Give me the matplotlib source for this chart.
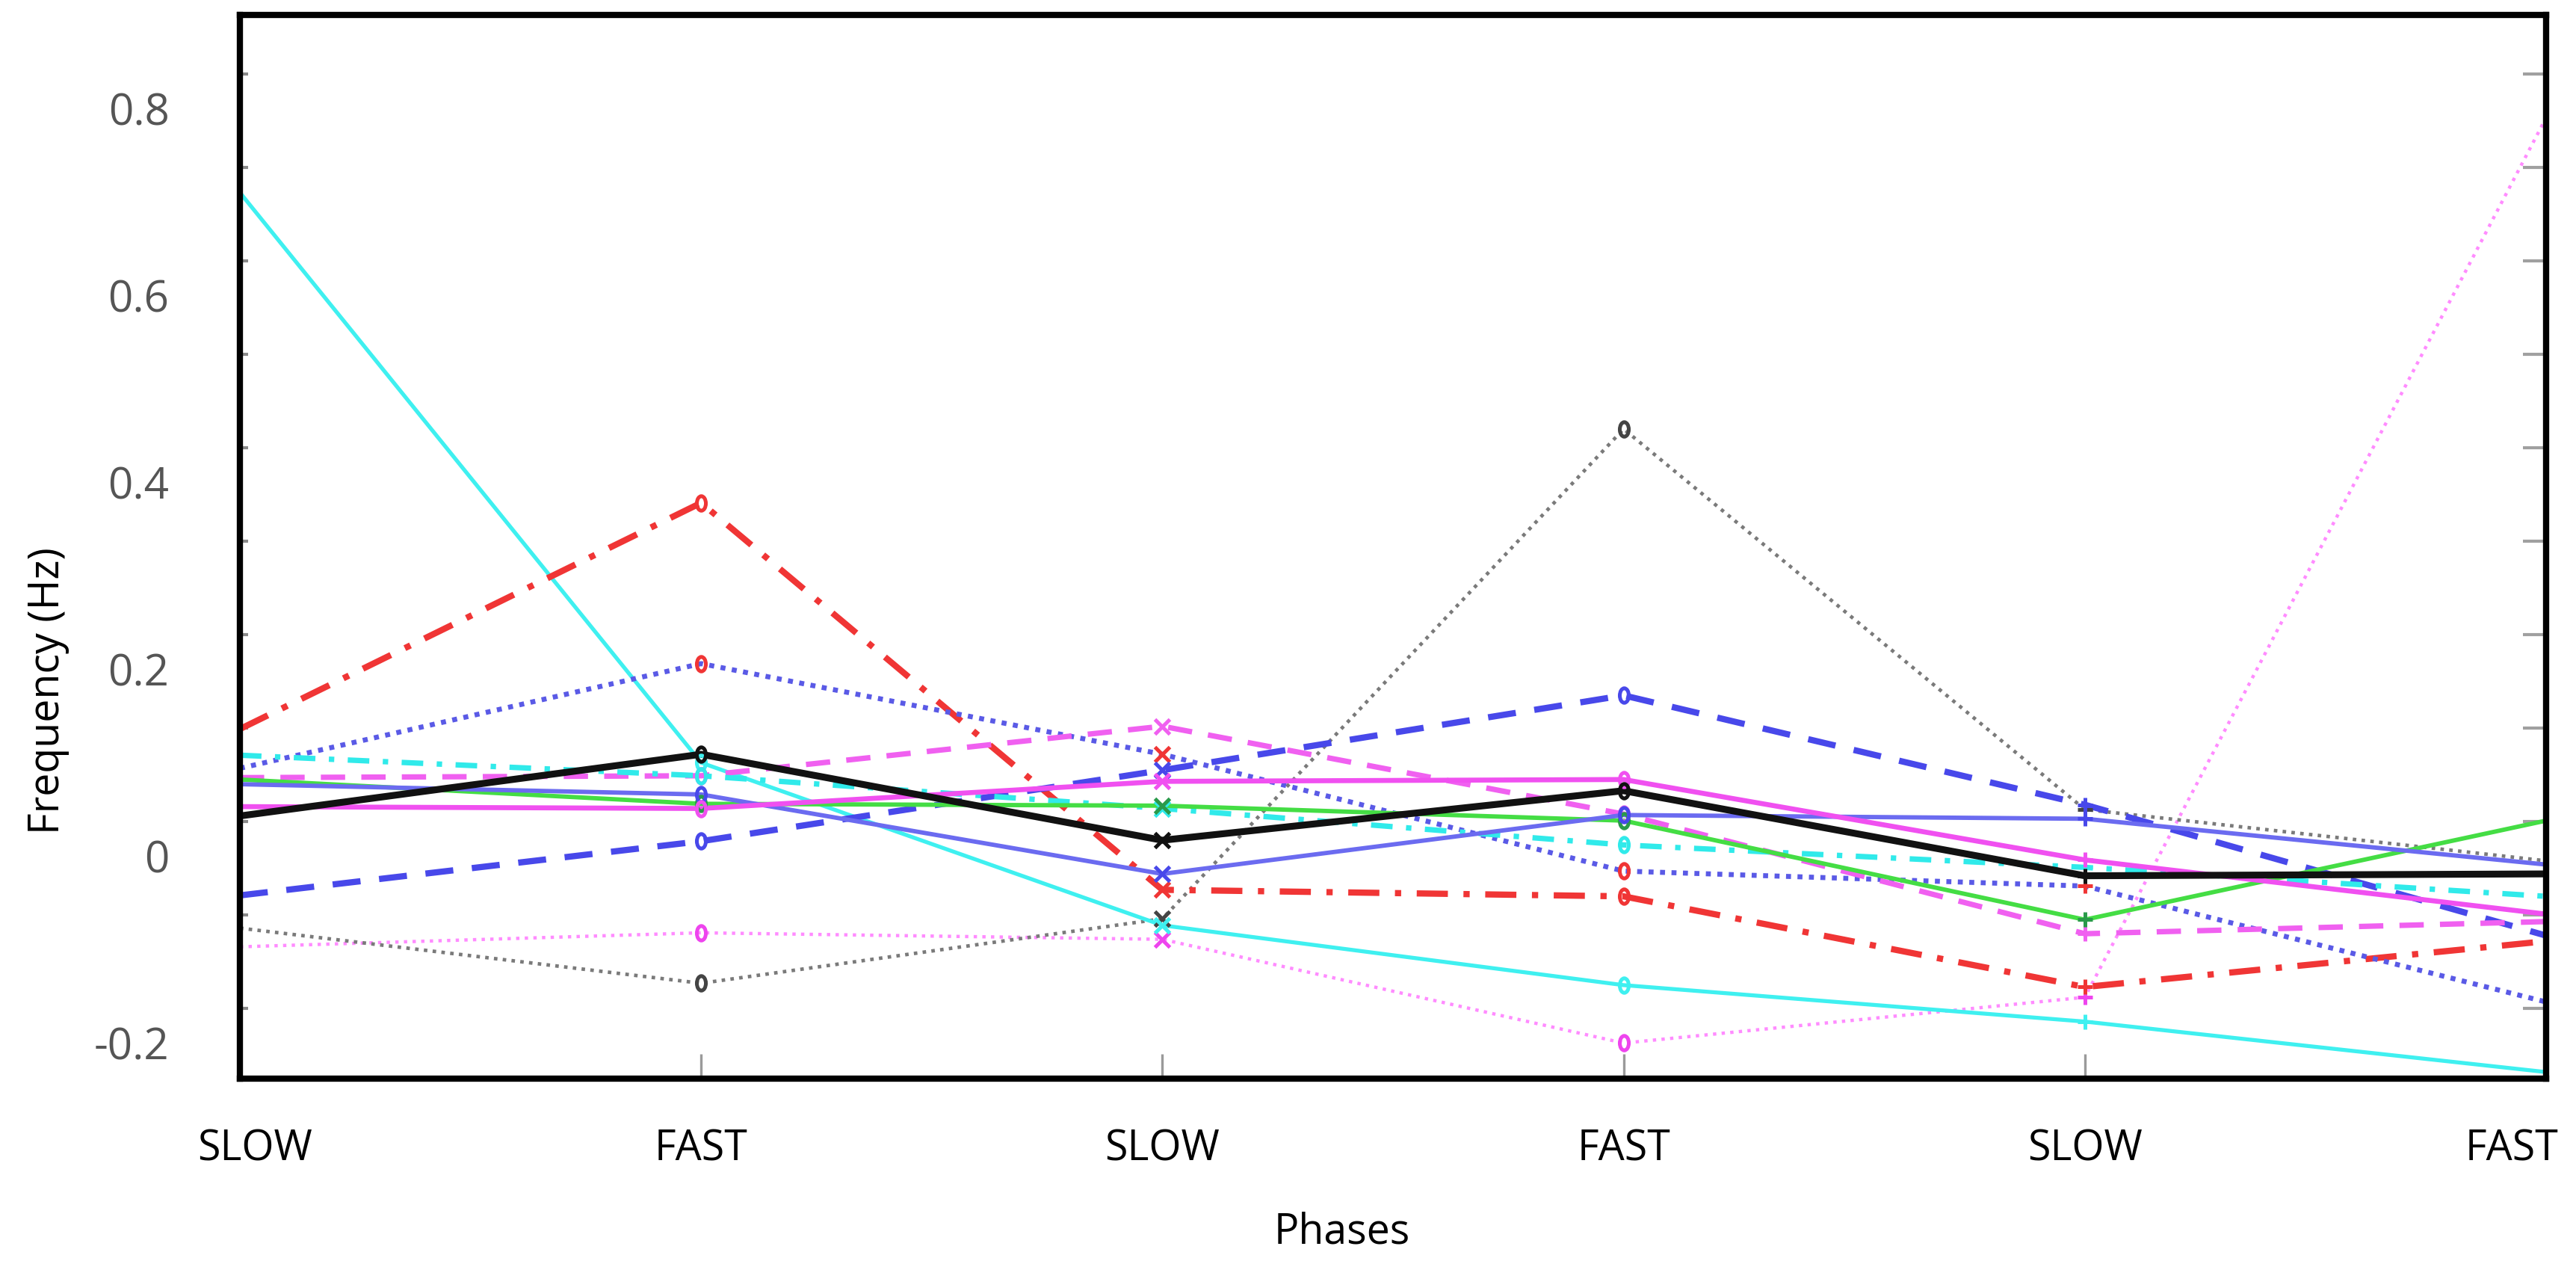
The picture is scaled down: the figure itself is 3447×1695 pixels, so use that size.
import numpy as np
import matplotlib
matplotlib.use('Agg')
from matplotlib import pyplot as plt
from matplotlib.path import Path
from matplotlib.transforms import Affine2D, ScaledTranslation

plt.rcParams['font.family'] = ['Open Sans', 'DejaVu Sans']

# fases do experimento
phases = ['SLOW', 'FAST', 'SLOW', 'FAST', 'SLOW', 'FAST']
x = np.arange(len(phases))

# frequencias (Hz) por serie
cyan_solid = [0.71, 0.10, -0.074, -0.138, -0.177, -0.231]
red_dashdot = [0.136, 0.378, -0.036, -0.043, -0.140, -0.091]
blue_dotted = [0.094, 0.206, 0.109, -0.016, -0.032, -0.156]
gray_dotted = [-0.077, -0.136, -0.067, 0.457, 0.050, -0.005]
blue_dashed = [-0.042, 0.016, 0.092, 0.172, 0.055, -0.085]
magenta_dashed = [0.084, 0.086, 0.139, 0.045, -0.083, -0.070]
magenta_solid = [0.053, 0.051, 0.080, 0.082, -0.004, -0.062]
green_solid = [0.082, 0.056, 0.054, 0.038, -0.068, 0.038]
blue_solid = [0.077, 0.066, -0.019, 0.044, 0.040, -0.009]
cyan_dashdot = [0.108, 0.086, 0.051, 0.012, -0.012, -0.043]
magenta_dotted = [-0.097, -0.082, -0.089, -0.200, -0.151, 0.79]
black_solid = [0.043, 0.109, 0.017, 0.070, -0.021, -0.019]

# circulo "achatado" parecido com o do grafico original
oval = Path.unit_circle().transformed(Affine2D().scale(0.62, 1.0))

# marcador usado em cada fase (nenhum na primeira e na ultima)
phase_markers = [None, oval, 'x', oval, '+', None]

# (valores, cor da linha, estilo, espessura, cor do marcador)
series = [
    (magenta_dotted, '#ff8cff', (0, (1, 1.6)), 1.6, '#ee44ee'),
    (gray_dotted, '#7a7a7a', (0, (1, 1.5)), 1.7, '#444444'),
    (cyan_solid, '#3ff0f0', '-', 1.9, '#3ff0f0'),
    (red_dashdot, '#f03535', (0, (5, 2.5, 1, 2.5)), 3.0, '#f03535'),
    (blue_dotted, '#5a5ae6', (0, (1, 1.3)), 2.4, '#f03535'),
    (blue_dashed, '#4848ea', (0, (4.5, 3)), 3.0, '#4848ea'),
    (magenta_dashed, '#f060f0', (0, (4.5, 3)), 2.6, '#f060f0'),
    (cyan_dashdot, '#30eaea', (0, (4, 2.5, 1, 2.5)), 2.6, '#30eaea'),
    (green_solid, '#44dd44', '-', 2.1, '#2a9a4a'),
    (blue_solid, '#6b6bf0', '-', 2.1, '#4848ea'),
    (magenta_solid, '#f050f0', '-', 2.4, '#f050f0'),
    (black_solid, '#111111', '-', 3.3, '#111111'),
]

fig = plt.figure(figsize=(17.24, 8.475), dpi=200)
ax = fig.add_axes([0.0931, 0.1487, 0.8950, 0.8395])

for vals, color, ls, lw, mcolor in series:
    ax.plot(x, vals, color=color, linestyle=ls, linewidth=lw, zorder=2)
    for i, m in enumerate(phase_markers):
        if m is None:
            continue
        ax.plot([x[i]], [vals[i]], marker=m, linestyle='none', markersize=7,
                markeredgewidth=1.8, markerfacecolor='none',
                markeredgecolor=mcolor, zorder=3)

ax.set_xlim(0, 5)
ax.set_ylim(-0.238, 0.9)

# eixo x
ax.set_xticks(x)
ax.set_xticklabels(phases, fontsize=20, color='black')
ax.tick_params(axis='x', direction='in', length=12, width=1.2,
               color='#9a9a9a', pad=24)
labels = ax.get_xticklabels()
labels[0].set_transform(labels[0].get_transform() +
                        ScaledTranslation(0.10, 0, fig.dpi_scale_trans))
labels[-1].set_transform(labels[-1].get_transform() +
                         ScaledTranslation(-0.23, 0, fig.dpi_scale_trans))

# eixo y: rotulos sem marca, marcas menores deslocadas
ax.set_yticks([-0.2, 0, 0.2, 0.4, 0.6, 0.8])
ax.set_yticklabels(['-0.2', '0', '0.2', '0.4', '0.6', '0.8'])
ax.tick_params(axis='y', which='major', length=0, labelsize=21,
               labelcolor='#555555', pad=34)
minor_pos = np.arange(-0.163, 0.85, 0.1)
ax.set_yticks(minor_pos, minor=True)
ax.tick_params(axis='y', which='minor', direction='in', length=4,
               width=1.5, color='#8a8a8a')

sec = ax.secondary_yaxis('right')
sec.set_yticks(minor_pos)
sec.tick_params(direction='in', length=11, width=1.5, color='#a0a0a0',
                labelright=False)
sec.spines['right'].set_visible(False)

for sp in ax.spines.values():
    sp.set_linewidth(3)
    sp.set_color('black')
    sp.set_zorder(5)

ax.set_xlabel('Phases', fontsize=20)
ax.xaxis.set_label_coords(0.478, -0.125)
ax.set_ylabel('Frequency (Hz)', fontsize=20)
ax.yaxis.set_label_coords(-0.074, 0.365)

fig.savefig('out.png', dpi=200)
plt.close(fig)
